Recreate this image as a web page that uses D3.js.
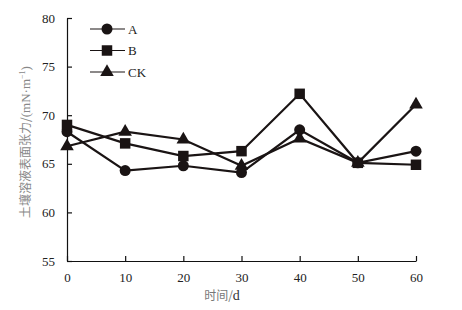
<!DOCTYPE html>
<html>
<head>
<meta charset="utf-8">
<script src="https://cdn.jsdelivr.net/npm/d3@7"></script>
<style>
  body { margin: 0; background: #fff; }
  svg { display: block; }
  .tick text { font-family: "Liberation Serif", "DejaVu Serif", serif; font-size: 13px; fill: #222; }
</style>
</head>
<body>
<div id="chart"></div>
<script>
const days = [0, 10, 20, 30, 40, 50, 60];
const seriesA = [68.3, 64.3, 64.8, 64.1, 68.5, 65.1, 66.3];
const seriesB = [69.0, 67.1, 65.8, 66.3, 72.2, 65.1, 64.9];
const seriesCK = [66.8, 68.3, 67.5, 64.8, 67.6, 65.1, 71.1];
const seriesNames = ["A", "B", "CK"];
const yTicks = [55, 60, 65, 70, 75, 80];

const width = 462, height = 310;
const margin = { top: 18, right: 46, bottom: 49, left: 67 };

const svg = d3.select("#chart").append("svg")
    .attr("width", width)
    .attr("height", height);

const x = d3.scaleLinear().domain([0, 60]).range([margin.left, width - margin.right]);
const y = d3.scaleLinear().domain([55, 80]).range([height - margin.bottom, margin.top]);

// axes, ticks pointing inward
svg.append("g")
    .attr("transform", "translate(0," + y(55) + ")")
    .call(d3.axisBottom(x).tickValues(days).tickSizeInner(-5).tickSizeOuter(0).tickPadding(12))
    .call(g => g.selectAll("line, path").attr("stroke", "#111").attr("stroke-width", 1.2));

svg.append("g")
    .attr("transform", "translate(" + x(0) + ",0)")
    .call(d3.axisLeft(y).tickValues(yTicks).tickSizeInner(-5).tickSizeOuter(0).tickPadding(12))
    .call(g => g.selectAll("line, path").attr("stroke", "#111").attr("stroke-width", 1.2));

// axis titles
const xt = svg.append("text")
    .attr("x", 222).attr("y", 300)
    .attr("text-anchor", "middle")
    .attr("fill", "#777")
    .style("font-family", "'Noto Sans CJK SC', sans-serif")
    .style("font-size", "12px");
xt.append("tspan").text("时间/");
xt.append("tspan").style("font-family", "'Liberation Serif', serif").style("font-size", "14px").attr("fill", "#333").text("d");

const yt = svg.append("text")
    .attr("transform", "translate(30,142) rotate(-90)")
    .attr("text-anchor", "middle")
    .attr("fill", "#888")
    .style("font-family", "'Noto Sans CJK SC', sans-serif")
    .style("font-size", "12px");
yt.append("tspan").text("土壤溶液表面张力/");
yt.append("tspan").style("font-family", "'Liberation Serif', serif").style("font-size", "13px").text("(mN·m");
yt.append("tspan").attr("dy", -5).style("font-family", "'Liberation Serif', serif").style("font-size", "8px").text("−1");
yt.append("tspan").attr("dy", 5).style("font-family", "'Liberation Serif', serif").style("font-size", "13px").text(")");

const allSeries = [seriesA, seriesB, seriesCK];
const symbols = [d3.symbolCircle, d3.symbolSquare, d3.symbolTriangle];
const symSizes = [95, 110, 80];

const line = d3.line()
    .x((d, i) => x(days[i]))
    .y(d => y(d));

allSeries.forEach(function (vals, k) {
    svg.append("path")
        .datum(vals)
        .attr("fill", "none")
        .attr("stroke", "#1a1414")
        .attr("stroke-width", 2.2)
        .attr("d", line);
});

allSeries.forEach(function (vals, k) {
    svg.selectAll(".m" + k)
        .data(vals)
        .enter().append("path")
        .attr("transform", (d, i) => "translate(" + x(days[i]) + "," + y(d) + ")")
        .attr("d", d3.symbol().type(symbols[k]).size(symSizes[k]))
        .attr("fill", "#1a1414");
});

// legend
const legend = svg.append("g");
seriesNames.forEach(function (name, k) {
    const ly = 29 + k * 21.5;
    legend.append("line")
        .attr("x1", 90).attr("x2", 125)
        .attr("y1", ly).attr("y2", ly)
        .attr("stroke", "#1a1414").attr("stroke-width", 1.2);
    legend.append("path")
        .attr("transform", "translate(107," + ly + ")")
        .attr("d", d3.symbol().type(symbols[k]).size(symSizes[k]))
        .attr("fill", "#1a1414");
    legend.append("text")
        .attr("x", 128).attr("y", ly + 4.5)
        .style("font-family", "'Liberation Serif', serif")
        .style("font-size", "13px")
        .attr("fill", "#222")
        .text(name);
});
</script>
</body>
</html>
